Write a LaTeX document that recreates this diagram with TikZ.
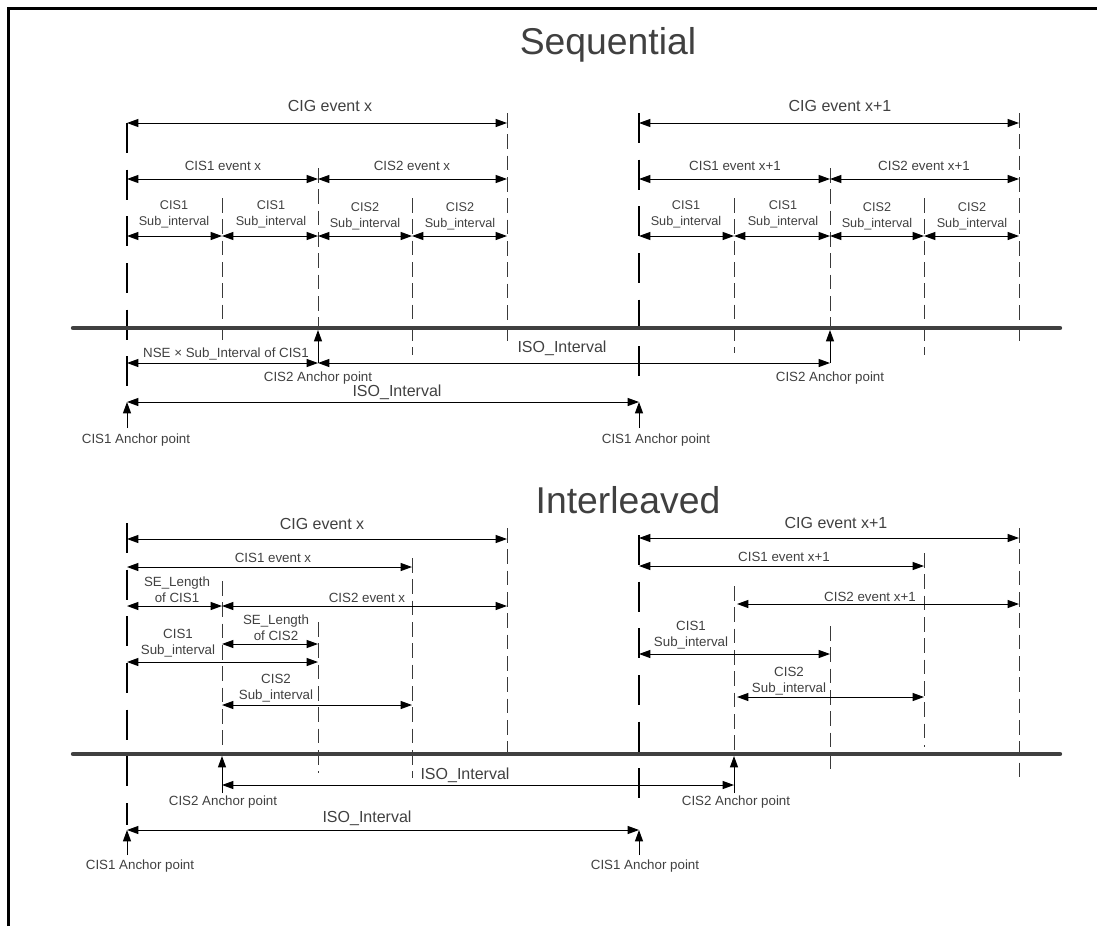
\documentclass[tikz,border=0pt]{standalone}
\usepackage{fontspec}
\setmainfont{Liberation Sans}
\usetikzlibrary{arrows.meta}

\definecolor{inkgray}{HTML}{404040}
\definecolor{tickgray}{HTML}{3A3A3A}

\tikzset{
  lbl/.style={text=inkgray, inner sep=0pt, align=center, font=\fontsize{10}{12}\selectfont},
  sublbl/.style={lbl, font=\fontsize{9.5}{12}\selectfont},
  biglbl/.style={lbl, font=\fontsize{12}{14}\selectfont},
  titlelbl/.style={lbl, font=\fontsize{28}{32}\selectfont},
  dimarrow/.style={<->, >={Triangle[length=8.5pt,width=6pt]}, line width=0.75pt},
  uparrow/.style={->, >={Triangle[length=8.5pt,width=6pt]}, line width=0.75pt},
  anchorline/.style={line width=1.5pt, dash pattern=on 22.5pt off 12.5pt},
  tickline/.style={draw=tickgray, line width=0.75pt, dash pattern=on 11pt off 5pt},
  timeline/.style={draw=inkgray, line width=3.3pt, line cap=round},
}

% double arrow between two named ends: name, x1, x2, y
\newcommand{\spanarrow}[4]{%
  \coordinate (#1-l) at (#2,#4);
  \coordinate (#1-r) at (#3,#4);
  \draw[dimarrow] (#1-l) -- (#1-r);}

\begin{document}
\begin{tikzpicture}[x=0.75pt, y=-0.75pt]
  \useasboundingbox (0,0) rectangle (1097,926);
  \draw[line width=1.8pt] (8.5,926) -- (8.5,8.5) -- (1097,8.5);

  % Sequential
  \node[titlelbl] (seqtitle) at (608,45) {Sequential};

  \draw[anchorline] (127,123) -- (127,396);
  \draw[anchorline] (639,113) -- (639,385);
  \foreach \x/\ya/\yb in {222/198/340, 318/168/328, 412/198/355, 507/113/347,
                          734/198/353, 830/168/328, 924/198/355, 1019/113/347}
    \draw[tickline] (\x,\ya) -- (\x,\yb);

  \node[biglbl] (sq-cig-t) at (330,106) {CIG event x};
  \spanarrow{sq-cig}{127}{507}{123}
  \node[lbl] (sq-cis1-t) at (223,166) {CIS1 event x};
  \spanarrow{sq-cis1}{127}{318}{179}
  \node[lbl] (sq-cis2-t) at (412,166) {CIS2 event x};
  \spanarrow{sq-cis2}{318}{507}{179}

  \node[sublbl] (sq-s1-t) at (174,214) {CIS1\\Sub\_interval};
  \spanarrow{sq-s1}{127}{222}{236}
  \node[sublbl] (sq-s2-t) at (271,214) {CIS1\\Sub\_interval};
  \spanarrow{sq-s2}{222}{318}{236}
  \node[sublbl] (sq-s3-t) at (365,216) {CIS2\\Sub\_interval};
  \spanarrow{sq-s3}{318}{412}{236}
  \node[sublbl] (sq-s4-t) at (460,216) {CIS2\\Sub\_interval};
  \spanarrow{sq-s4}{412}{507}{236}

  \begin{scope}[shift={(512,0)}]
    \node[biglbl] (sr-cig-t) at (328,106) {CIG event x+1};
    \spanarrow{sr-cig}{127}{507}{123}
    \node[lbl] (sr-cis1-t) at (223,166) {CIS1 event x+1};
    \spanarrow{sr-cis1}{127}{318}{179}
    \node[lbl] (sr-cis2-t) at (412,166) {CIS2 event x+1};
    \spanarrow{sr-cis2}{318}{507}{179}

    \node[sublbl] (sr-s1-t) at (174,214) {CIS1\\Sub\_interval};
    \spanarrow{sr-s1}{127}{222}{236}
    \node[sublbl] (sr-s2-t) at (271,214) {CIS1\\Sub\_interval};
    \spanarrow{sr-s2}{222}{318}{236}
    \node[sublbl] (sr-s3-t) at (365,216) {CIS2\\Sub\_interval};
    \spanarrow{sr-s3}{318}{412}{236}
    \node[sublbl] (sr-s4-t) at (460,216) {CIS2\\Sub\_interval};
    \spanarrow{sr-s4}{412}{507}{236}
  \end{scope}

  \draw[timeline] (73,328) -- (1060,328);

  \node[lbl] (sq-nse-t) at (226,354) {NSE × Sub\_Interval of CIS1};
  \spanarrow{sq-nse}{127}{318}{363}
  \node[biglbl] (sq-iso1-t) at (562,348) {ISO\_Interval};
  \spanarrow{sq-iso1}{318}{830}{363}
  \coordinate (sq-ax1) at (318,330);
  \coordinate (sq-ax2) at (830,330);
  \draw[uparrow] (sq-iso1-l) -- (sq-ax1);
  \draw[uparrow] (sq-iso1-r) -- (sq-ax2);
  \node[lbl] (sq-a2l) at (318,378) {CIS2 Anchor point};
  \node[lbl] (sq-a2r) at (830,378) {CIS2 Anchor point};

  \node[biglbl] (sq-iso2-t) at (397,392) {ISO\_Interval};
  \spanarrow{sq-iso2}{127}{639}{402}
  \coordinate (sq-p1) at (127,428);
  \coordinate (sq-p2) at (639,428);
  \draw[uparrow] (sq-p1) -- (sq-iso2-l);
  \draw[uparrow] (sq-p2) -- (sq-iso2-r);
  \node[lbl] (sq-a1l) at (136,440) {CIS1 Anchor point};
  \node[lbl] (sq-a1r) at (656,440) {CIS1 Anchor point};

  % Interleaved
  \node[titlelbl] (inttitle) at (628,500) {Interleaved};

  \draw[anchorline] (127,523) -- (127,825);
  \draw[anchorline] (639,535) -- (639,808);
  \foreach \x/\ya/\yb in {222/581/754, 318/622/773, 412/558/778, 507/528/762,
                          734/586/754, 830/626/775, 924/553/747, 1019/528/783}
    \draw[tickline] (\x,\ya) -- (\x,\yb);

  \node[biglbl] (il-cig-t) at (322,524) {CIG event x};
  \spanarrow{il-cig}{127}{507}{539}
  \node[biglbl] (ir-cig-t) at (836,523) {CIG event x+1};
  \spanarrow{ir-cig}{639}{1019}{538}

  \node[lbl] (il-cis1-t) at (273,558) {CIS1 event x};
  \spanarrow{il-cis1}{127}{412}{567}
  \node[lbl] (ir-cis1-t) at (784,557) {CIS1 event x+1};
  \spanarrow{ir-cis1}{639}{924}{566}

  \node[lbl] (il-se1-t) at (177,590) {SE\_Length\\of CIS1};
  \spanarrow{il-se1}{127}{222}{606}
  \node[lbl] (il-cis2-t) at (367,598) {CIS2 event x};
  \spanarrow{il-cis2}{222}{507}{606}
  \node[lbl] (ir-cis2-t) at (870,597) {CIS2 event x+1};
  \spanarrow{ir-cis2}{737}{1019}{604}

  \node[lbl] (il-se2-t) at (276,628) {SE\_Length\\of CIS2};
  \spanarrow{il-se2}{222}{318}{644}
  \node[lbl] (il-s1-t) at (178,643) {CIS1\\Sub\_interval};
  \spanarrow{il-s1}{127}{318}{662}
  \node[lbl] (ir-s1-t) at (691,635) {CIS1\\Sub\_interval};
  \spanarrow{ir-s1}{639}{830}{654}
  \node[lbl] (il-s2-t) at (276,688) {CIS2\\Sub\_interval};
  \spanarrow{il-s2}{222}{412}{705}
  \node[lbl] (ir-s2-t) at (789,681) {CIS2\\Sub\_interval};
  \spanarrow{ir-s2}{737}{924}{697}

  \draw[timeline] (73,754) -- (1060,754);

  \node[biglbl] (il-iso1-t) at (465,775) {ISO\_Interval};
  \spanarrow{il-iso1}{222}{734}{785}
  \coordinate (il-p2l) at (222,793);
  \coordinate (il-p2r) at (734,793);
  \coordinate (il-ax1) at (222,756);
  \coordinate (il-ax2) at (734,756);
  \draw[uparrow] (il-p2l) -- (il-ax1);
  \draw[uparrow] (il-p2r) -- (il-ax2);
  \node[lbl] (il-a2l) at (223,802) {CIS2 Anchor point};
  \node[lbl] (il-a2r) at (736,802) {CIS2 Anchor point};

  \node[biglbl] (il-iso2-t) at (367,818) {ISO\_Interval};
  \spanarrow{il-iso2}{127}{639}{830}
  \coordinate (il-p1l) at (127,855);
  \coordinate (il-p1r) at (639,855);
  \draw[uparrow] (il-p1l) -- (il-iso2-l);
  \draw[uparrow] (il-p1r) -- (il-iso2-r);
  \node[lbl] (il-a1l) at (140,866) {CIS1 Anchor point};
  \node[lbl] (il-a1r) at (645,866) {CIS1 Anchor point};
\end{tikzpicture}
\end{document}
